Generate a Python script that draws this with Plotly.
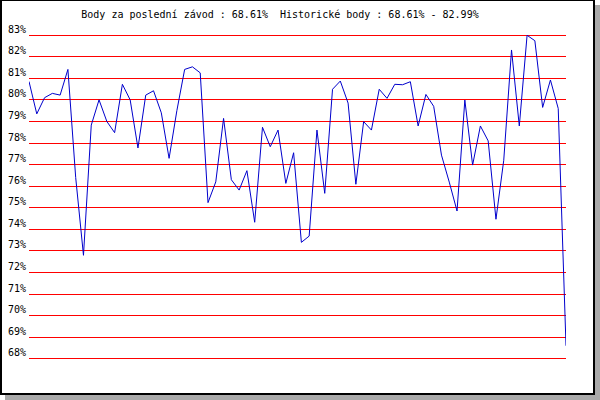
import plotly.graph_objects as go

title_text = "Body za poslední závod : 68.61%  Historické body : 68.61% - 82.99%"

race_index = list(range(70))
points = [80.85, 79.35, 80.1, 80.3, 80.22, 81.41, 76.4, 72.8, 78.83, 80.0,
          79.0, 78.48, 80.72, 80.0, 77.77, 80.22, 80.42, 79.4, 77.29, 79.5,
          81.41, 81.53, 81.25, 75.24, 76.2, 79.14, 76.3, 75.82, 76.72, 74.33,
          78.73, 77.83, 78.6, 76.13, 77.55, 73.4, 73.69, 78.6, 75.67, 80.49,
          80.87, 79.85, 76.09, 78.99, 78.6, 80.49, 80.07, 80.72, 80.7, 80.84,
          78.79, 80.25, 79.7, 77.44, 76.19, 74.85, 79.99, 76.98, 78.79, 78.1,
          74.47, 77.2, 82.31, 78.79, 82.99, 82.74, 79.65, 80.92, 79.6, 68.61]

y_ticks = [68, 69, 70, 71, 72, 73, 74, 75, 76, 77, 78, 79, 80, 81, 82, 83]
y_labels = ["68%", "69%", "70%", "71%", "72%", "73%", "74%", "75%",
            "76%", "77%", "78%", "79%", "80%", "81%", "82%", "83%"]

W, H = 600, 400
ML, MR, MT, MB = 29, 34, 34, 40
PW, PH = W - ML - MR, H - MT - MB


def px(x):
    return (x - ML) / PW


def py(y):
    return (H - MB - y) / PH


def rect(x0, y0, x1, y1, color):
    return dict(type="rect", xref="paper", yref="paper",
                x0=px(x0), x1=px(x1), y0=py(y1), y1=py(y0),
                fillcolor=color, line=dict(width=0), layer="above")


fig = go.Figure()
fig.add_trace(go.Scatter(x=race_index, y=points, mode="lines",
                         line=dict(color="#0000cc", width=1),
                         hoverinfo="skip"))

annotations = [dict(x=0, xref="paper", xanchor="right", xshift=-1,
                    y=v, yref="y", yanchor="middle", yshift=6,
                    text=t, showarrow=False,
                    font=dict(family="DejaVu Sans Mono", size=10, color="black"))
               for v, t in zip(y_ticks, y_labels)]

fig.update_layout(
    width=W, height=H,
    margin=dict(l=ML, r=MR, t=MT, b=MB, pad=0, autoexpand=False),
    paper_bgcolor="white", plot_bgcolor="white",
    showlegend=False,
    title=dict(text=title_text, x=280 / W, xref="container", xanchor="center",
               y=1 - 14 / H, yref="container", yanchor="middle",
               font=dict(family="DejaVu Sans Mono", size=10, color="black")),
    annotations=annotations,
    shapes=[rect(595, 5, 600, 400, "#a9a9a9"),
            rect(5, 395, 600, 400, "#a9a9a9"),
            rect(0, 0, 2, 395, "black"),
            rect(593, 0, 595, 395, "black"),
            rect(0, 393, 595, 395, "black"),
            rect(0, 0, 595, 1, "black")],
    xaxis=dict(range=[0, 69], showgrid=False, zeroline=False, showline=False,
               showticklabels=False, ticks="", automargin=False),
    yaxis=dict(range=[67.95, 83.05], tickvals=y_ticks,
               showgrid=True, gridcolor="#ff0000", gridwidth=1,
               zeroline=False, showline=False, ticks="",
               showticklabels=False, automargin=False),
)

fig.write_html("out.html",
               config={"displayModeBar": False, "staticPlot": True},
               post_script="document.body.style.margin='0';document.body.style.padding='0';")
